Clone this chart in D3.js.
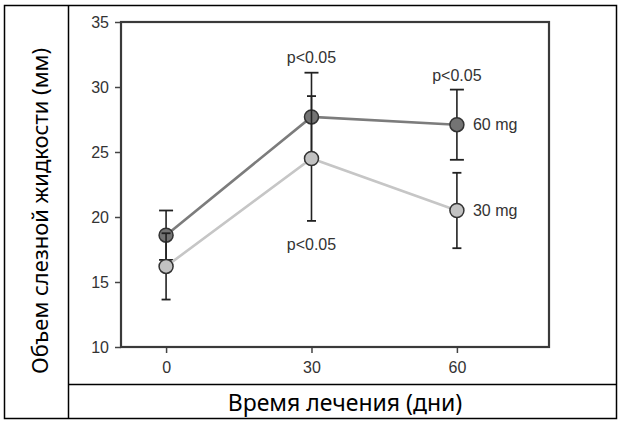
<!DOCTYPE html>
<html>
<head>
<meta charset="utf-8">
<script src="https://cdn.jsdelivr.net/npm/d3@7"></script>
<style>
  body { margin: 0; background: #fff; }
  .tick text { font-family: "Liberation Sans", Arial, sans-serif; font-size: 16px; fill: #333; }
  .ann { font-family: "Liberation Sans", Arial, sans-serif; font-size: 16px; fill: #333; }
  .title { font-family: "Noto Sans", "Open Sans", sans-serif; font-size: 22px; fill: #000; }
</style>
</head>
<body>
<div id="chart"></div>
<script>
// data
const dni = [0, 30, 60];
const doza60 = [18.6, 27.7, 27.1];
const sd60 = [1.9, 3.4, 2.7];
const doza30 = [16.2, 24.5, 20.5];
const sd30 = [2.55, 4.8, 2.9];
const yTicks = [10, 15, 20, 25, 30, 35];
const xTicks = [0, 30, 60];
const pOznake = [
    { x: 30, y: 32.3, tekst: "p<0.05" },
    { x: 60, y: 30.85, tekst: "p<0.05" },
    { x: 30, y: 17.85, tekst: "p<0.05" }
];
const serije = [
    { ime: "60 mg", vrijednosti: doza60, sd: sd60, linija: "#7c7c7c", ispuna: "#747474", kapa: 14 },
    { ime: "30 mg", vrijednosti: doza30, sd: sd30, linija: "#c6c6c6", ispuna: "#c2c2c2", kapa: 9 }
];

const sirina = 626, visina = 425;
const svg = d3.select("#chart").append("svg")
    .attr("width", sirina)
    .attr("height", visina);

// okvir slike
svg.append("rect")
    .attr("x", 4.5).attr("y", 5.5)
    .attr("width", 612).attr("height", 413)
    .attr("fill", "none").attr("stroke", "#000").attr("stroke-width", 1.5);
svg.append("line")
    .attr("x1", 68.5).attr("x2", 68.5).attr("y1", 5.5).attr("y2", 418.5)
    .attr("stroke", "#000").attr("stroke-width", 1.5);
svg.append("line")
    .attr("x1", 68.5).attr("x2", 616.5).attr("y1", 384.5).attr("y2", 384.5)
    .attr("stroke", "#000").attr("stroke-width", 1.5);

// skale
const xSkala = d3.scaleLinear().domain([-9.3, 79]).range([121, 549]);
const ySkala = d3.scaleLinear().domain([10, 35]).range([347, 22]);

// osi
const yOs = d3.axisLeft(ySkala).tickValues(yTicks).tickSize(6).tickPadding(6);
const xOs = d3.axisBottom(xSkala).tickValues(xTicks).tickSize(6).tickPadding(9);

const gy = svg.append("g").attr("transform", "translate(121,0)").call(yOs);
const gx = svg.append("g").attr("transform", "translate(0,347)").call(xOs);
[gy, gx].forEach(g => {
    g.select(".domain").remove();
    g.selectAll(".tick line").attr("stroke", "#444").attr("stroke-width", 1.5);
});

// okvir grafa
svg.append("rect")
    .attr("x", 121).attr("y", 22)
    .attr("width", 428).attr("height", 325)
    .attr("fill", "none").attr("stroke", "#3a3a3a").attr("stroke-width", 2.2);

const linija = d3.line()
    .x((d, i) => xSkala(dni[i]))
    .y(d => ySkala(d));

serije.forEach(s => {
    svg.append("path")
        .datum(s.vrijednosti)
        .attr("d", linija)
        .attr("fill", "none")
        .attr("stroke", s.linija)
        .attr("stroke-width", 2.6);

    const greske = svg.append("g");
    s.vrijednosti.forEach((v, i) => {
        const x = xSkala(dni[i]);
        const gore = ySkala(v + s.sd[i]);
        const dolje = ySkala(v - s.sd[i]);
        greske.append("line")
            .attr("x1", x).attr("x2", x).attr("y1", gore).attr("y2", dolje)
            .attr("stroke", "#222").attr("stroke-width", 1.6);
        [gore, dolje].forEach(y => {
            greske.append("line")
                .attr("x1", x - s.kapa / 2).attr("x2", x + s.kapa / 2)
                .attr("y1", y).attr("y2", y)
                .attr("stroke", "#222").attr("stroke-width", 1.8);
        });
    });

    svg.append("g").selectAll("circle")
        .data(s.vrijednosti)
        .join("circle")
        .attr("cx", (d, i) => xSkala(dni[i]))
        .attr("cy", d => ySkala(d))
        .attr("r", 7)
        .attr("fill", s.ispuna)
        .attr("stroke", "#333")
        .attr("stroke-width", 1.5);

    const zadnji = s.vrijednosti.length - 1;
    svg.append("text")
        .attr("class", "ann")
        .attr("x", xSkala(dni[zadnji]) + 16)
        .attr("y", ySkala(s.vrijednosti[zadnji]))
        .attr("dominant-baseline", "central")
        .text(s.ime);
});

svg.append("g").selectAll("text")
    .data(pOznake)
    .join("text")
    .attr("class", "ann")
    .attr("x", d => xSkala(d.x))
    .attr("y", d => ySkala(d.y))
    .attr("text-anchor", "middle")
    .attr("dominant-baseline", "central")
    .text(d => d.tekst);

// naslovi osi
svg.append("text")
    .attr("class", "title")
    .attr("transform", "translate(39,211) rotate(-90)")
    .attr("text-anchor", "middle")
    .attr("dominant-baseline", "central")
    .text("Объем слезной жидкости (мм)");

svg.append("text")
    .attr("class", "title")
    .attr("x", 345)
    .attr("y", 402)
    .attr("text-anchor", "middle")
    .attr("dominant-baseline", "central")
    .style("font-size", "23px")
    .text("Время лечения (дни)");
</script>
</body>
</html>
